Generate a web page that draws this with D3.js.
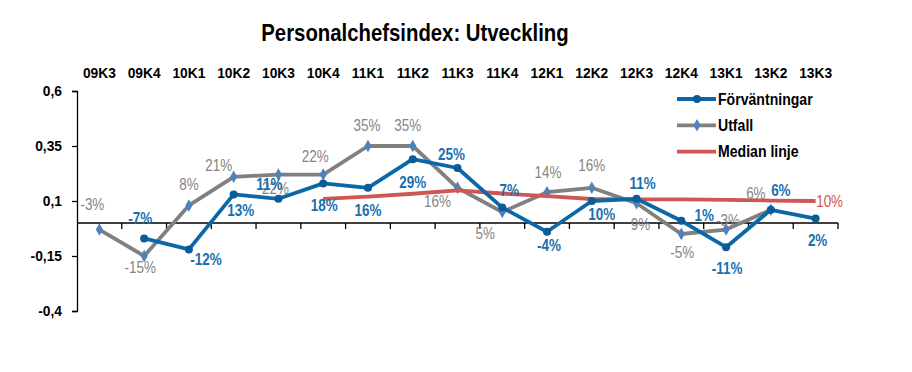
<!DOCTYPE html>
<html>
<head>
<meta charset="utf-8">
<script src="https://cdn.jsdelivr.net/npm/d3@7"></script>
<style>
  body { margin: 0; background: #fff; }
  svg { display: block; }
  text { font-family: "Liberation Sans", Arial, sans-serif; }
</style>
</head>
<body>
<svg id="chart" width="912" height="372"></svg>
<script>
// ---- data ----
const categories = ["09K3","09K4","10K1","10K2","10K3","10K4","11K1","11K2","11K3","11K4","12K1","12K2","12K3","12K4","13K1","13K2","13K3"];
const forvantningar = [null,-0.07,-0.12,0.13,0.11,0.18,0.16,0.29,0.25,0.07,-0.04,0.10,0.11,0.01,-0.11,0.06,0.02];
const utfall = [-0.03,-0.15,0.08,0.21,0.22,0.22,0.35,0.35,0.16,0.05,0.14,0.16,0.09,-0.05,-0.03,0.06,null];
const median = [null,null,null,null,null,0.11,0.12,0.133,0.148,0.134,0.122,0.109,0.107,0.107,0.105,0.102,0.10];
const yTicks = [0.6,0.35,0.1,-0.15,-0.4];
const seriesNames = ["Förväntningar","Utfall","Median linje"];
const title = "Personalchefsindex: Utveckling";

// label placement (pixel offsets relative to each point; styling only)
const blueLabelOffsets = [null,[-4,-20],[17,10],[7,16],[-9,-14],[1,22],[0,23],[0,23],[-6,-14],[7,-17],[2,14],[10,13],[6,-15],[23,-5],[1,21],[10,-19],[2,22]];
const grayLabelOffsets = [[-7,-25],[-4,11],[0,-21],[-15,-11],[-3,14],[-8,-18],[-1,-21],[-5,-21],[-20,14],[-17,21],[1,-20],[0,-22],[4,21],[1,18],[2,-9],[-15,-16],null];

// ---- styles ----
const BLUE = "#0b68a8", BLUE_MK = "#0a5c97", GRAY = "#808080", GRAY_MK = "#4f81bd", RED = "#d05656";
const BLUE_TXT = "#1670b0", GRAY_TXT = "#858585", RED_TXT = "#d05656";

// narrow-font emulation: squeeze glyphs horizontally
function squeeze(sel, f) {
  sel.each(function () {
    const len = this.getComputedTextLength();
    d3.select(this).attr("textLength", len * f).attr("lengthAdjust", "spacingAndGlyphs");
  });
}

const svg = d3.select("#chart");
const x = d3.scaleBand().domain(categories).range([77, 838]);
const y = d3.scaleLinear().domain([-0.4, 0.6]).range([311, 91]);
const cx = c => x(c) + x.bandwidth() / 2;
const fmt = v => Math.round(v * 100) + "%";

// title
svg.append("text").attr("x", 415).attr("y", 41).attr("text-anchor", "middle")
  .attr("font-size", 24.5).attr("font-weight", "bold").attr("fill", "#000").text(title)
  .call(squeeze, 0.83);

// top category labels
const topAxis = svg.append("g").attr("transform", "translate(0,78)")
  .call(d3.axisTop(x).tickSize(0).tickPadding(0));
topAxis.select(".domain").remove();
topAxis.selectAll("text").attr("font-size", 15.5).attr("font-weight", "bold").attr("fill", "#000")
  .style("font-family", '"Liberation Sans", Arial, sans-serif')
  .call(squeeze, 0.89);

// y axis
const yAxis = svg.append("g").attr("transform", "translate(77,0)")
  .call(d3.axisLeft(y).tickValues(yTicks).tickSize(5).tickPadding(10)
    .tickFormat(d => String(d).replace(".", ",")));
yAxis.select(".domain").attr("stroke", "#000").attr("stroke-width", 1.3);
yAxis.selectAll(".tick line").attr("stroke", "#000").attr("stroke-width", 1.3);
yAxis.selectAll("text").attr("font-size", 15).attr("font-weight", "bold").attr("fill", "#000")
  .style("font-family", '"Liberation Sans", Arial, sans-serif')
  .call(squeeze, 0.92);

// x axis at zero
const boundaries = categories.map(c => x(c) + x.bandwidth());
const xAxisG = svg.append("g");
xAxisG.append("line").attr("x1", x.range()[0]).attr("x2", x.range()[1])
  .attr("y1", y(0)).attr("y2", y(0)).attr("stroke", "#000").attr("stroke-width", 1.3);
xAxisG.selectAll("line.tk").data(boundaries).join("line").attr("class", "tk")
  .attr("x1", d => d).attr("x2", d => d).attr("y1", y(0)).attr("y2", y(0) + 6)
  .attr("stroke", "#000").attr("stroke-width", 1.3);

// lines
const lineGen = d3.line().defined(d => d.v != null).x(d => cx(d.c)).y(d => y(d.v));
const toPts = arr => categories.map((c, i) => ({ c, v: arr[i], i }));

const redPts = toPts(median);
const grayPts = toPts(utfall);
const bluePts = toPts(forvantningar);

svg.append("path").datum(grayPts).attr("d", lineGen).attr("fill", "none")
  .attr("stroke", GRAY).attr("stroke-width", 3.8).attr("stroke-linejoin", "round");
svg.selectAll("path.gmk").data(grayPts.filter(d => d.v != null)).join("path").attr("class", "gmk")
  .attr("d", d3.symbol(d3.symbolDiamond, 45)())
  .attr("transform", d => `translate(${cx(d.c)},${y(d.v)})`).attr("fill", GRAY_MK);

svg.append("path").datum(redPts).attr("d", lineGen).attr("fill", "none")
  .attr("stroke", RED).attr("stroke-width", 3.8).attr("stroke-linejoin", "round");

svg.append("path").datum(bluePts).attr("d", lineGen).attr("fill", "none")
  .attr("stroke", BLUE).attr("stroke-width", 3.8).attr("stroke-linejoin", "round");
svg.selectAll("circle.bmk").data(bluePts.filter(d => d.v != null)).join("circle").attr("class", "bmk")
  .attr("cx", d => cx(d.c)).attr("cy", d => y(d.v)).attr("r", 4).attr("fill", BLUE_MK);

// data labels
svg.selectAll("text.gl").data(grayPts.filter(d => d.v != null)).join("text").attr("class", "gl")
  .attr("x", d => cx(d.c) + grayLabelOffsets[d.i][0]).attr("y", d => y(d.v) + grayLabelOffsets[d.i][1])
  .attr("text-anchor", "middle").attr("dominant-baseline", "central")
  .attr("font-size", 16).attr("fill", GRAY_TXT).text(d => fmt(d.v))
  .call(squeeze, 0.84);

svg.selectAll("text.bl").data(bluePts.filter(d => d.v != null)).join("text").attr("class", "bl")
  .attr("x", d => cx(d.c) + blueLabelOffsets[d.i][0]).attr("y", d => y(d.v) + blueLabelOffsets[d.i][1])
  .attr("text-anchor", "middle").attr("dominant-baseline", "central")
  .attr("font-size", 16).attr("font-weight", "bold").attr("fill", BLUE_TXT).text(d => fmt(d.v))
  .call(squeeze, 0.84);

const lastRed = redPts[redPts.length - 1];
svg.append("text").attr("x", cx(lastRed.c) + 14).attr("y", y(lastRed.v))
  .attr("text-anchor", "middle").attr("dominant-baseline", "central")
  .attr("font-size", 16).attr("fill", RED_TXT).text(fmt(lastRed.v))
  .call(squeeze, 0.84);

// legend
const legend = svg.append("g").attr("transform", "translate(677,99)");
const legItems = [
  { name: seriesNames[0], color: BLUE, mk: "circle" },
  { name: seriesNames[1], color: GRAY, mk: "diamond" },
  { name: seriesNames[2], color: RED, mk: null }
];
legItems.forEach((it, k) => {
  const g = legend.append("g").attr("transform", `translate(0,${k * 26.3})`);
  g.append("line").attr("x1", 0).attr("x2", 39).attr("y1", 0).attr("y2", 0)
    .attr("stroke", it.color).attr("stroke-width", 3.8);
  if (it.mk === "circle") g.append("circle").attr("cx", 20).attr("cy", 0).attr("r", 4).attr("fill", BLUE_MK);
  if (it.mk === "diamond") g.append("path").attr("d", d3.symbol(d3.symbolDiamond, 45)())
    .attr("transform", "translate(20,0)").attr("fill", GRAY_MK);
  g.append("text").attr("x", 41).attr("y", 0).attr("dominant-baseline", "central")
    .attr("font-size", 16).attr("font-weight", "bold").attr("fill", "#000").text(it.name)
    .call(squeeze, 0.88);
});
</script>
</body>
</html>
